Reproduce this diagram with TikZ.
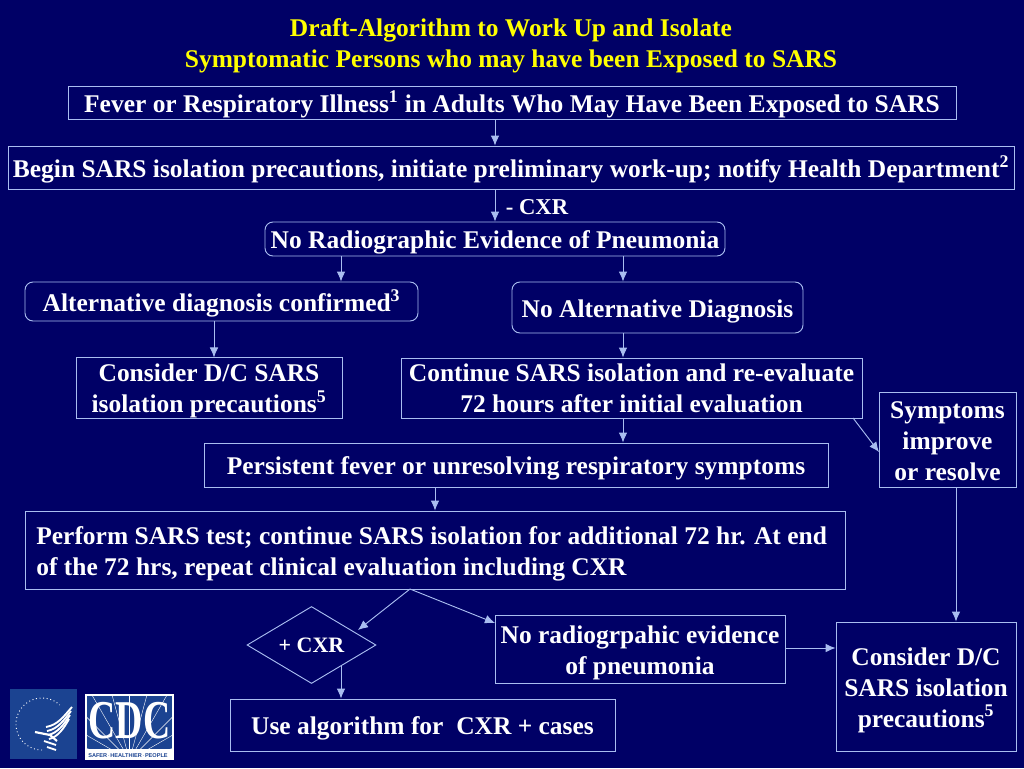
\documentclass[tikz,border=0pt]{standalone}
\usepackage{fontspec}
\setmainfont{Liberation Serif}
\setsansfont{Liberation Sans}
\usepackage{xcolor,graphicx}
\usetikzlibrary{arrows.meta,shapes.geometric,positioning}
\definecolor{slidebg}{HTML}{000066}
\definecolor{lineblue}{HTML}{A9BDF0}
\definecolor{logoblue}{HTML}{1B4391}
\definecolor{titleyellow}{HTML}{FFFF00}
\newcommand{\flowfont}{\fontsize{19.1}{23.25}\selectfont\bfseries}
\tikzset{
  flowbox/.style={draw=lineblue,line width=0.7pt,text=white,font=\flowfont,align=center,inner sep=0pt,
    minimum width=#1,execute at begin node={\rule{0pt}{19pt}},execute at end node={\rule[-4pt]{0pt}{0pt}}},
  manylines/.style={execute at begin node={\rule{0pt}{#1}}},
  roundbox/.style={flowbox=#1,rounded corners=6pt},
  flowarrow/.style={color=lineblue,line width=0.7pt,-{Latex[length=7.5pt,width=6.5pt]}},
}
\begin{document}
\begin{tikzpicture}[x=0.75pt,y=-0.75pt]
    \fill[slidebg] (0,0) rectangle (1024,768);
    \useasboundingbox (0,0) rectangle (1024,768);
    \node[text=titleyellow,font=\flowfont,align=center] (title) at (511,46)
      {Draft-Algorithm to Work Up and Isolate\\Symptomatic Persons who may have been Exposed to SARS};
    \node[flowbox=666pt,minimum height=24.75pt] (fever) at (512,102.5)
      {Fever or Respiratory Illness\textsuperscript{1} in Adults Who May Have Been Exposed to SARS};
    \node[flowbox=754.5pt,minimum height=32.25pt] (begin) at (511,167.5)
      {Begin SARS isolation precautions, initiate preliminary work-up; notify Health Department\textsuperscript{2}};
    \node[text=white,font=\fontsize{17}{20}\selectfont\bfseries,inner sep=0pt] (cxrlabel) at (537,207) {- CXR};
    \node[roundbox=345pt,minimum height=25.5pt] (noradio) at (495,239) {No Radiographic Evidence of Pneumonia};
    \node[roundbox=294.75pt,minimum height=29.25pt] (altdiag) at (221.5,301.5) {Alternative diagnosis confirmed\textsuperscript{3}};
    \node[roundbox=218.25pt,minimum height=38.25pt] (noalt) at (657.5,307.5) {No Alternative Diagnosis};
    \node[flowbox=199.5pt,manylines=41pt,minimum height=45pt] (consider) at (209,388) {Consider D/C SARS\\isolation precautions\textsuperscript{5}};
    \node[flowbox=345.75pt,manylines=41pt,minimum height=45pt] (continue) at (631.5,388) {Continue SARS isolation and re-evaluate\\72 hours after initial evaluation};
    \node[flowbox=102.75pt,manylines=64.8pt,minimum height=71.25pt] (symptoms) at (947.5,439.5) {Symptoms\\improve\\or resolve};
    \node[flowbox=468pt,minimum height=33pt] (persistent) at (516,465) {Persistent fever or unresolving respiratory symptoms};
    \node[flowbox=615pt,align=flush left,text width=598pt,minimum height=58.5pt] (perform) at (435,550)
      {Perform SARS test; continue SARS isolation for additional 72 hr. At end\\of the 72 hrs, repeat clinical evaluation including CXR};
    \node[diamond,draw=lineblue,line width=0.7pt,text=white,font=\fontsize{16.5}{20}\selectfont\bfseries,inner sep=0pt,
      minimum width=96.75pt,minimum height=57.75pt,aspect=1.67] (plus) at (311.5,645) {+ CXR};
    \node[flowbox=217.5pt,manylines=42.5pt,minimum height=51pt] (noevid) at (640,649) {No radiogrpahic evidence\\of pneumonia};
    \node[flowbox=288.75pt,minimum height=39pt] (usealg) at (422.5,725) {Use algorithm for~ CXR + cases};
    \node[flowbox=135pt,manylines=64.8pt,minimum height=96.75pt] (considerb) at (926,686.5) {Consider D/C\\SARS isolation\\precautions\textsuperscript{5}};
    % arrow positions
    \coordinate (mid) at (495,0);
    \coordinate (left) at (341,0);
    \coordinate (right) at (623,0);
    \coordinate (down) at (214,0);
    \coordinate (test) at (435,0);
    \coordinate (far) at (956,0);
    \coordinate (split) at (410,589);
    \coordinate (dtop) at (358,630);
    \coordinate (etop) at (495,623);
    \coordinate (cstart) at (853,418);
    \coordinate (cend) at (879,452);
    \coordinate (dfoot) at (341,665);
    \path[flowarrow]
    (mid |- fever.south) edge (mid |- begin.north)
    (mid |- begin.south) edge (mid |- noradio.north)
    (left |- noradio.south) edge (left |- altdiag.north)
    (right |- noradio.south) edge (right |- noalt.north)
    (down |- altdiag.south) edge (down |- consider.north)
    (right |- noalt.south) edge (right |- continue.north)
    (right |- continue.south) edge (right |- persistent.north)
    (test |- persistent.south) edge (test |- perform.north)
    (split) edge (dtop)
    (split) edge (etop)
    (dfoot) edge (left |- usealg.north)
    (noevid.east |- 0,648) edge (considerb.west |- 0,648)
    (cstart) edge (cend)
    (far |- symptoms.south) edge (far |- considerb.north);
    % logos
    \fill[logoblue] (10,689) rectangle (77,759);
    \draw[white,line width=0.7pt,dotted] plot[domain=-270:-47,samples=60,smooth] ({42+26*cos(\x)},{724+26*sin(\x)});
    \foreach \i in {0,1,2,3}
      \draw[white,line width=1.4pt] (46+\i,727+\i*4) .. controls (58,725+\i*4) and (64,716+\i*4) .. (72-\i,707+\i*4);
    \draw[white,line width=1.6pt] (35,732) -- (50,735) -- (57,741);
    \draw[white,line width=1.4pt] (44,741) -- (56,745);
    \draw[white,line width=1.4pt] (47,747) -- (56,750);
    \fill[white] (85,694) rectangle (174,760);
    \fill[logoblue] (87,696) rectangle (172,749);
    \begin{scope}
      \clip (87,696) rectangle (172,749);
      \foreach \a in {15,30,...,165}
        \draw[white,line width=0.3pt] (129.5,760) -- ++({100*cos(\a)},{-100*sin(\a)});
    \end{scope}
    \node[text=white,font=\fontsize{41}{41}\selectfont\bfseries,inner sep=0pt] (cdc) at (129.5,721) {\scalebox{0.69}[1]{CDC}};
    \node[text=logoblue,font=\sffamily\bfseries\fontsize{4.2}{5}\selectfont,inner sep=0pt] (safer) at (128,755.5) {SAFER$\cdot$HEALTHIER$\cdot$PEOPLE};
\end{tikzpicture}
\end{document}
